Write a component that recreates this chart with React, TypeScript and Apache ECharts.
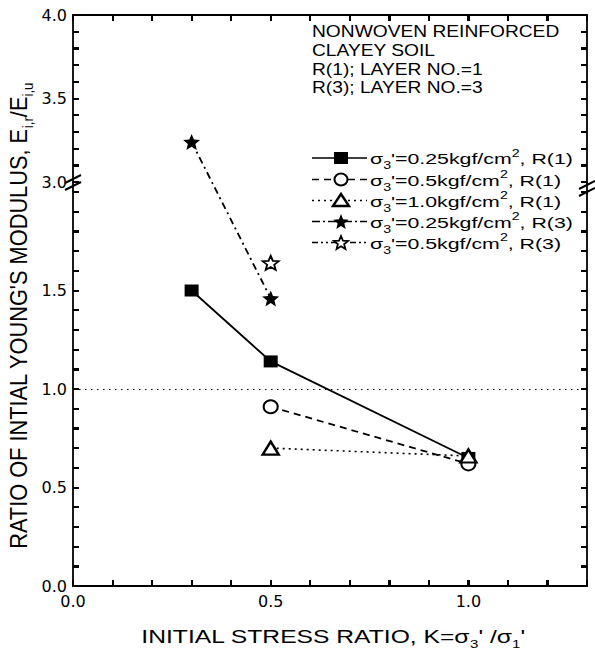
import React, { useEffect, useRef } from 'react';
import * as echarts from 'echarts';

// ---- data ----
const s1Data = [[0.3, 1.5], [0.5, 1.14], [1.0, 0.65]];
const s2Data = [[0.5, 0.91], [1.0, 0.62]];
const s3Data = [[0.5, 0.70], [1.0, 0.66]];
const s4UpperData = [[0.3, 3.24]];
const s4LowerData = [[0.5, 1.46]];
const s5Data = [[0.5, 1.64]];
const refLineValue = 1.0;

const xTicks = [0.1, 0.2, 0.3, 0.4, 0.5, 0.6, 0.7, 0.8, 0.9, 1.0, 1.1, 1.2];
const yLowerTicks = [0.1, 0.2, 0.3, 0.4, 0.5, 0.6, 0.7, 0.8, 0.9, 1.0, 1.1, 1.2, 1.3, 1.4, 1.5, 1.6, 1.7, 1.8, 1.9];
const yUpperTicks = [3.1, 3.2, 3.3, 3.4, 3.5, 3.6, 3.7, 3.8, 3.9];
const xLabelValues = [0, 0.5, 1.0];
const yLowerLabelValues = [0, 0.5, 1.0, 1.5];
const yUpperLabelValues = [3.0, 3.5, 4.0];

const headerLines = ['NONWOVEN REINFORCED', 'CLAYEY SOIL', 'R(1); LAYER NO.=1', 'R(3); LAYER NO.=3'];
const legendStress = ['0.25', '0.5', '1.0', '0.25', '0.5'];
const legendLayer = ['1', '1', '1', '3', '3'];
const seriesNames = legendStress.map((s, i) => `σ3'=${s}kgf/cm2, R(${legendLayer[i]})`);

// ---- styling ----
const FONT = 'Liberation Sans, Arial, Helvetica, sans-serif';
const STAR = 'path://M50,0L62.93,32.2L97.55,34.55L70.92,56.8L79.39,90.45L50,72L20.61,90.45L29.08,56.8L2.45,34.55L37.07,32.2Z';
const STAR_PTS = [[50, 0], [62.93, 32.2], [97.55, 34.55], [70.92, 56.8], [79.39, 90.45], [50, 72], [20.61, 90.45], [29.08, 56.8], [2.45, 34.55], [37.07, 32.2]];
const starPoints = (w: number, h: number) => STAR_PTS.map(([x, y]) => [(x / 100 - 0.5) * w, (y / 90.45 - 0.5) * h]);

const dashes: any[] = [null, [7, 5], [2, 4], [8, 3, 2, 3], [6, 3, 2, 3, 2, 3]];
const TICK = 6;

const fmt = (vals: number[]) => (v: number) => (vals.some((l) => Math.abs(l - v) < 1e-6) ? v.toFixed(1) : '');

const mkLine = () => ({ show: true, onZero: false, lineStyle: { color: '#000', width: 1.8 } });
const mkTick = () => ({ show: true, inside: true, length: TICK, lineStyle: { color: '#000', width: 2 } });
const labelStyle = { color: '#000', fontFamily: 'DejaVu Sans', fontSize: 16 };

function axis(extra: any) {
  return {
    type: 'value', axisLine: mkLine(), axisTick: mkTick(), splitLine: { show: false },
    ...extra,
  };
}

function legendMarker(i: number, cx: number, cy: number) {
  const stroke = { stroke: '#000', lineWidth: 2 };
  if (i === 0) return { type: 'rect', x: cx, y: cy, shape: { x: -7, y: -6, width: 14, height: 12 }, style: { fill: '#000' }, z: 5 };
  if (i === 1) return { type: 'ellipse', x: cx, y: cy, shape: { cx: 0, cy: 0, rx: 6.5, ry: 6 }, style: { fill: '#fff', ...stroke }, z: 5 };
  if (i === 2) return { type: 'polygon', x: cx, y: cy, shape: { points: [[-8, 5.5], [0, -6.5], [8, 5.5]] }, style: { fill: '#fff', ...stroke, lineWidth: 2.4 }, z: 5 };
  if (i === 3) return { type: 'polygon', x: cx, y: cy, shape: { points: starPoints(16, 15) }, style: { fill: '#000' }, z: 5 };
  return { type: 'polygon', x: cx, y: cy, shape: { points: starPoints(15, 13) }, style: { fill: '#fff', ...stroke, lineWidth: 1.8 }, z: 5 };
}

function buildGraphics(extra: any[]) {
  const g: any[] = [];
  const headerY = [31.5, 51, 69.5, 88];
  headerLines.forEach((t, i) => {
    g.push({
      type: 'text', x: 312, y: headerY[i], scaleX: 1.2,
      style: { text: t, fontSize: 16, fontFamily: FONT, fill: '#000', align: 'left', textAlign: 'left', verticalAlign: 'middle', textVerticalAlign: 'middle' },
    });
  });
  const rowY = [158, 179.5, 200.5, 221.5, 242.5];
  legendStress.forEach((s, i) => {
    const y = rowY[i];
    g.push({ type: 'line', shape: { x1: 312, y1: y, x2: 367, y2: y }, style: { stroke: '#000', lineWidth: 1.5, lineDash: dashes[i] }, z: 4 });
    g.push(legendMarker(i, 341, y));
    g.push({
      type: 'text', x: 370, y: y + 1, scaleX: 1.42,
      style: {
        text: `{t|σ}{sub|3}{t|'=${s}kgf/cm}{sup|2}{t|, R(${legendLayer[i]})}`,
        fontSize: 15, fontFamily: FONT, fill: '#000', align: 'left', textAlign: 'left', verticalAlign: 'middle', textVerticalAlign: 'middle',
        rich: {
          t: { fontSize: 15, fontFamily: FONT, fill: '#000', color: '#000' },
          sub: { fontSize: 10, fontFamily: FONT, fill: '#000', color: '#000', padding: [14, 0, 0, 0] },
          sup: { fontSize: 10, fontFamily: FONT, fill: '#000', color: '#000', padding: [0, 0, 11, 0] },
        },
      },
    });
  });
  g.push({
    type: 'text', x: 333, y: 637, scaleX: 1.37,
    style: {
      text: `INITIAL STRESS RATIO, K=σ{sub|3}' /σ{sub|1}'`,
      fontSize: 18, fontFamily: FONT, fill: '#000', align: 'center', textAlign: 'center', verticalAlign: 'middle', textVerticalAlign: 'middle',
      rich: { sub: { fontSize: 11, fontFamily: FONT, fill: '#000', color: '#000', padding: [14, 0, 0, 0] } },
    },
  });
  g.push({
    type: 'text', x: 19, y: 316, rotation: Math.PI / 2, scaleX: 1.21, scaleY: 1.3,
    style: {
      text: `RATIO OF INTIAL YOUNG'S MODULUS, E{sub|i,r}/E{sub|i,u}`,
      fontSize: 18, fontFamily: FONT, fill: '#000', align: 'center', textAlign: 'center', verticalAlign: 'middle', textVerticalAlign: 'middle',
      rich: { sub: { fontSize: 11, fontFamily: FONT, fill: '#000', color: '#000', padding: [14, 0, 0, 0] } },
    },
  });
  [73, 587].forEach((x) => {
    g.push({ type: 'line', shape: { x1: x, y1: 182, x2: x, y2: 192 }, style: { stroke: '#000', lineWidth: 1.8 } });
  });
  const marks = [[73, 179], [73, 186], [587, 185], [587, 192]];
  marks.forEach(([x, y]) => {
    g.push({ type: 'line', shape: { x1: x - 8, y1: y + 4, x2: x + 8, y2: y - 4 }, style: { stroke: '#000', lineWidth: 2 }, z: 6 });
  });
  return g.concat(extra);
}

function buildOption(extra: any[]) {
  return {
    animation: false,
    backgroundColor: '#fff',
    grid: [
      { left: 73, top: 15, width: 514, height: 167 },
      { left: 73, top: 192, width: 514, height: 394 },
    ],
    xAxis: [
      axis({ gridIndex: 0, position: 'top', min: 0, max: 1.3, interval: 0.1, axisLabel: { show: false } }),
      axis({ gridIndex: 1, position: 'bottom', min: 0, max: 1.3, interval: 0.1, axisLabel: { ...labelStyle, margin: 7, formatter: fmt(xLabelValues) } }),
    ],
    yAxis: [
      axis({ gridIndex: 0, position: 'left', min: 3, max: 4, interval: 0.1, axisLabel: { ...labelStyle, margin: 6, formatter: fmt(yUpperLabelValues) } }),
      axis({ gridIndex: 0, position: 'right', min: 3, max: 4, interval: 0.1, axisLabel: { show: false } }),
      axis({ gridIndex: 1, position: 'left', min: 0, max: 2, interval: 0.1, axisLabel: { ...labelStyle, margin: 6, formatter: fmt(yLowerLabelValues) } }),
      axis({ gridIndex: 1, position: 'right', min: 0, max: 2, interval: 0.1, axisLabel: { show: false } }),
    ],
    series: [
      {
        name: seriesNames[0], type: 'line', xAxisIndex: 1, yAxisIndex: 2, data: s1Data,
        symbol: 'rect', symbolSize: [14, 12], itemStyle: { color: '#000', opacity: 1 }, lineStyle: { color: '#000', width: 1.8 }, z: 3,
        markLine: { silent: true, symbol: ['none', 'none'], label: { show: false }, lineStyle: { color: '#000', type: [1.5, 4.5], width: 1.2 }, data: [{ yAxis: refLineValue }], z: 1 },
      },
      {
        name: seriesNames[1], type: 'line', xAxisIndex: 1, yAxisIndex: 2, data: s2Data,
        symbol: 'circle', symbolSize: [14, 13], itemStyle: { color: '#fff', borderColor: '#000', borderWidth: 2, opacity: 1 }, lineStyle: { color: '#000', width: 1.8, type: [7, 5] }, z: 3,
      },
      {
        name: seriesNames[2], type: 'line', xAxisIndex: 1, yAxisIndex: 2, data: s3Data,
        symbol: 'triangle', symbolSize: [16, 13], itemStyle: { color: '#fff', borderColor: '#000', borderWidth: 2.4, opacity: 1 }, lineStyle: { color: '#000', width: 1.6, type: [2, 4] }, z: 3,
      },
      {
        name: seriesNames[3], type: 'scatter', xAxisIndex: 0, yAxisIndex: 0, data: s4UpperData,
        symbol: STAR, symbolSize: [17, 16], itemStyle: { color: '#000', opacity: 1 }, z: 4,
      },
      {
        name: seriesNames[3], type: 'scatter', xAxisIndex: 1, yAxisIndex: 2, data: s4LowerData,
        symbol: STAR, symbolSize: [17, 16], itemStyle: { color: '#000', opacity: 1 }, z: 4,
      },
      {
        name: seriesNames[4], type: 'scatter', xAxisIndex: 1, yAxisIndex: 2, data: s5Data,
        symbol: STAR, symbolSize: [16, 14], itemStyle: { color: '#fff', borderColor: '#000', borderWidth: 1.8, opacity: 1 }, z: 4,
      },
    ],
    graphic: buildGraphics(extra),
  };
}

export default function App() {
  const ref = useRef<HTMLDivElement>(null);
  useEffect(() => {
    const chart = echarts.init(ref.current!, null, { renderer: 'svg' });
    chart.setOption(buildOption([]));
    const px = (xi: number, v: number) => chart.convertToPixel({ xAxisIndex: xi } as any, v) as unknown as number;
    const py = (yi: number, v: number) => chart.convertToPixel({ yAxisIndex: yi } as any, v) as unknown as number;
    const p1 = chart.convertToPixel({ seriesIndex: 3 }, s4UpperData[0]) as number[];
    const p2 = chart.convertToPixel({ seriesIndex: 4 }, s4LowerData[0]) as number[];
    const extra: any[] = [{
      type: 'line', z: 1,
      shape: { x1: p1[0], y1: p1[1], x2: p2[0], y2: p2[1] },
      style: { stroke: '#000', lineWidth: 1.8, lineDash: [7, 4, 2, 4] },
    }];
    // tick marks placed through the axes' own scales
    const left = px(1, 0);
    const right = px(1, 1.3);
    const bottom = py(2, 0);
    const top = py(0, 4);
    const tickStyle = { stroke: '#000', lineWidth: 2 };
    xTicks.forEach((v) => {
      const xb = Math.round(px(1, v));
      const xt = Math.round(px(0, v));
      extra.push({ type: 'line', z: 7, shape: { x1: xb, y1: bottom, x2: xb, y2: bottom - TICK }, style: tickStyle });
      extra.push({ type: 'line', z: 7, shape: { x1: xt, y1: top, x2: xt, y2: top + TICK }, style: tickStyle });
    });
    const yTicks: [number, number][] = [
      ...yUpperTicks.map((v) => [0, v] as [number, number]),
      ...yLowerTicks.map((v) => [2, v] as [number, number]),
    ];
    yTicks.forEach(([yi, v]) => {
      const y = Math.round(py(yi, v));
      extra.push({ type: 'line', z: 7, shape: { x1: left, y1: y, x2: left + TICK, y2: y }, style: tickStyle });
      extra.push({ type: 'line', z: 7, shape: { x1: right, y1: y, x2: right - TICK, y2: y }, style: tickStyle });
    });
    chart.setOption(buildOption(extra), true);
    return () => chart.dispose();
  }, []);
  return <div ref={ref} style={{ position: 'absolute', left: 0, top: 0, width: 595, height: 656 }} />;
}
